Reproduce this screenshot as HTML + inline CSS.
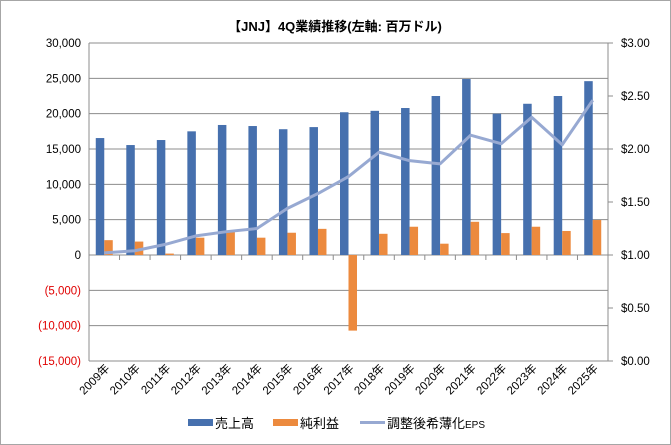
<!DOCTYPE html>
<html><head><meta charset="utf-8"><style>
html,body{margin:0;padding:0;background:#fff;}
svg{display:block;font-family:"Liberation Sans","Noto Sans CJK JP",sans-serif;}
</style></head><body>
<svg id="c" width="671" height="445" viewBox="0 0 671 445" xmlns="http://www.w3.org/2000/svg">
<rect x="0.5" y="0.5" width="670" height="444" fill="#fff" stroke="#a6a6a6"/>
<text x="335" y="31" text-anchor="middle" font-size="13" font-weight="bold" fill="#000">【JNJ】4Q業績推移(左軸: 百万ドル)</text>
<g id="grid"></g><g id="bars"></g><g id="axes"></g><g id="line"></g><g id="labels"></g>
<g>
<rect x="188" y="419" width="25" height="7" fill="#4670AE"/>
<text x="215" y="428" font-size="13" fill="#000">売上高</text>
<rect x="273" y="419" width="25" height="7" fill="#EC8A3E"/>
<text x="300" y="428" font-size="13" fill="#000">純利益</text>
<line x1="360" y1="422.5" x2="385" y2="422.5" stroke="#97A9D2" stroke-width="3"/>
<text x="387" y="428" font-size="13" fill="#000">調整後希薄化<tspan font-size="10">EPS</tspan></text>
</g>
</svg>
<script>
const categories=["2009年","2010年","2011年","2012年","2013年","2014年","2015年","2016年","2017年","2018年","2019年","2020年","2021年","2022年","2023年","2024年","2025年"];
const revenue=[16550,15560,16270,17500,18400,18250,17800,18100,20200,20400,20800,22500,24900,20000,21400,22500,24600];
const netIncome=[2100,1900,200,2450,3400,2450,3150,3700,-10700,3000,4000,1600,4700,3100,4000,3400,4950];
const eps=[1.02,1.04,1.10,1.18,1.22,1.25,1.44,1.58,1.74,1.97,1.89,1.86,2.13,2.05,2.30,2.04,2.46];
const leftTicks=[30000,25000,20000,15000,10000,5000,0,-5000,-10000,-15000];
const rightTicks=[3,2.5,2,1.5,1,0.5,0];
const NS="http://www.w3.org/2000/svg";
const X0=89,X1=608,YT=43,YB=361;
const yL=v=>YB-(v+15000)/45000*(YB-YT);
const yR=v=>YB-v/3*(YB-YT);
const bw=(X1-X0)/categories.length;
const xC=i=>X0+bw*(i+0.5);
function mk(tag,attrs,parent){const e=document.createElementNS(NS,tag);for(const k in attrs)e.setAttribute(k,attrs[k]);document.getElementById(parent).appendChild(e);return e;}
leftTicks.forEach(t=>{
  const g=mk('line',{x1:X0,x2:X1,y1:yL(t),y2:yL(t),stroke:t===0?'#8c8c8c':'#8c8c8c','stroke-width':1},'grid');
  
  
  const lab=t<0?'('+Math.abs(t).toLocaleString('en-US')+')':t.toLocaleString('en-US');
  const tx=mk('text',{x:X0-8,y:yL(t)+4,'text-anchor':'end','font-size':11.5,fill:t<0?'#e00000':'#000'},'labels');
  tx.textContent=lab;
  
  
});
rightTicks.forEach(t=>{
  const l=mk('line',{x1:X1,x2:X1+5,y1:yR(t),y2:yR(t),stroke:'#8c8c8c'},'axes');
  
  
  const tx=mk('text',{x:X1+13,y:yR(t)+4,'font-size':11.5,fill:'#000'},'labels');
  tx.textContent='$'+t.toFixed(2);
  
  
});
let a=mk('line',{x1:X0,x2:X0,y1:YT,y2:YB,stroke:'#8c8c8c'},'axes');


a=mk('line',{x1:X1,x2:X1,y1:YT,y2:YB,stroke:'#8c8c8c'},'axes');


const y0=yL(0);
categories.forEach((c,i)=>{
  const x=X0+bw*i;
  const tk=mk('line',{x1:x,x2:x,y1:y0,y2:y0+5,stroke:'#8c8c8c'},'axes');
  
  
  const cx=xC(i);
  const r=mk('rect',{x:cx-8.5,y:yL(revenue[i]),width:8.5,height:y0-yL(revenue[i]),fill:'#4670AE'},'bars');
  
  
  const v=netIncome[i],yt=Math.min(yL(v),y0),h=Math.abs(yL(v)-y0);
  const o=mk('rect',{x:cx,y:yt,width:8.5,height:h,fill:'#EC8A3E'},'bars');
  
  
  const tx=mk('text',{x:cx+6,y:YB+8,'text-anchor':'end','font-size':11.5,fill:'#000',transform:`rotate(-45 ${cx+6} ${YB+8})`},'labels');
  tx.textContent=c;
  
  
});
const tkE=mk('line',{x1:X1,x2:X1,y1:y0,y2:y0+5,stroke:'#8c8c8c'},'axes');


const p=mk('polyline',{points:eps.map((v,i)=>xC(i)+','+yR(v)).join(' '),fill:'none',stroke:'#97A9D2','stroke-width':3,'stroke-linejoin':'round'},'line');


</script>
</body></html>
